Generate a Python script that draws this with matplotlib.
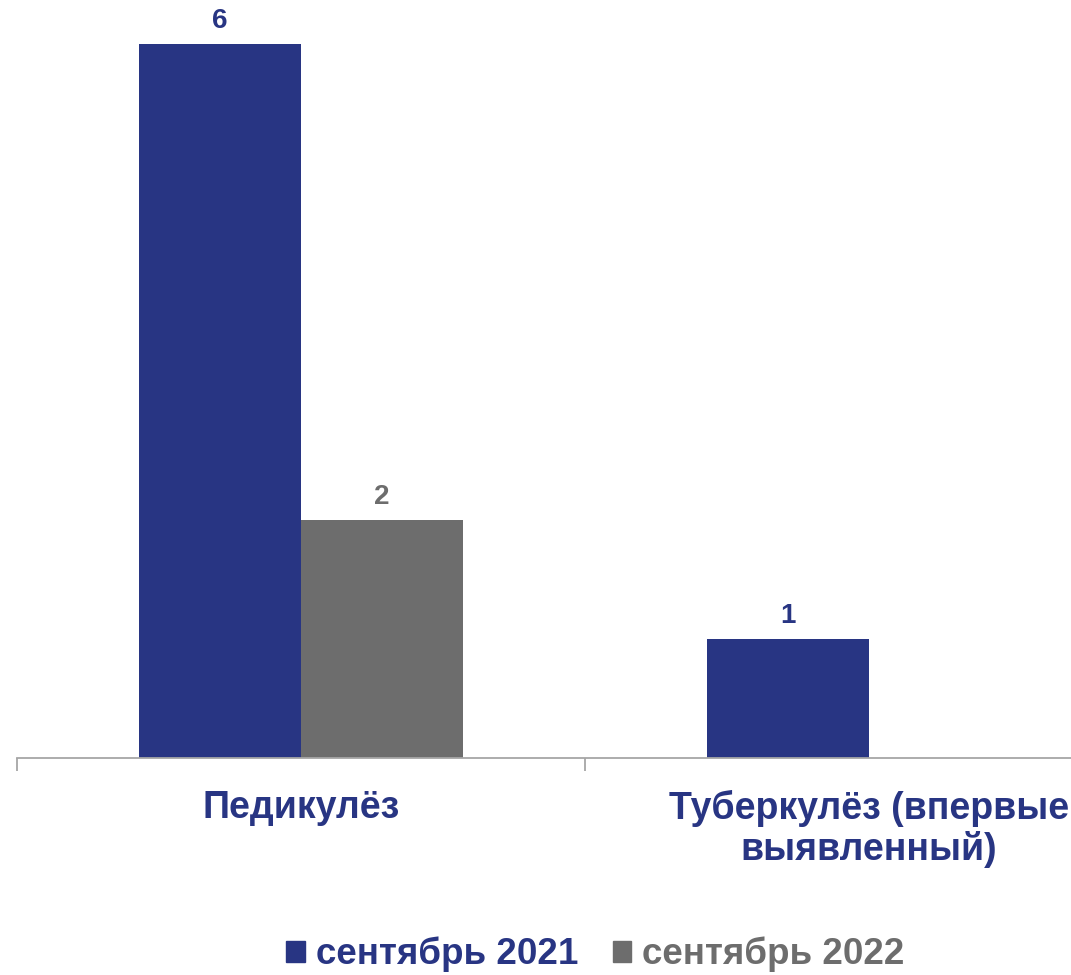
import matplotlib
matplotlib.use("Agg")
import matplotlib.pyplot as plt
from matplotlib.patches import Patch
import numpy as np

categories = ["Педикулёз", "Туберкулёз (впервые\nвыявленный)"]
series_names = ["сентябрь 2021", "сентябрь 2022"]
values_2021 = [6, 1]
values_2022 = [2, np.nan]

BLUE = "#283583"
GRAY = "#6D6D6D"
plt.rcParams['font.family'] = ['Liberation Sans', 'DejaVu Sans']

W, H = 1071, 975
fig = plt.figure(figsize=(W / 100, H / 100), dpi=100)
left_px, right_px = 17, 1153
bottom_px = 758
ymax = 6.3
unit_px = 119.0
top_px = bottom_px - ymax * unit_px
ax = fig.add_axes([left_px / W, (H - bottom_px) / H,
                   (right_px - left_px) / W, (bottom_px - top_px) / H])

x = np.arange(len(categories))
bw = 0.285
b1 = ax.bar(x - bw / 2, values_2021, width=bw, color=BLUE, label=series_names[0])
b2 = ax.bar(x + bw / 2, values_2022, width=bw, color=GRAY, label=series_names[1])

for bars, vals, col in [(b1, values_2021, BLUE), (b2, values_2022, GRAY)]:
    for rect, v in zip(bars, vals):
        if v is None or np.isnan(v):
            continue
        ax.annotate(f"{v:g}", (rect.get_x() + rect.get_width() / 2, v),
                    xytext=(0, 7), textcoords="offset points",
                    ha="center", va="bottom", fontsize=20, fontweight="bold", color=col)

ax.set_xlim(-0.5, len(categories) - 0.5)
ax.set_ylim(0, ymax)
ax.set_yticks([])
for s in ["left", "top", "right"]:
    ax.spines[s].set_visible(False)
ax.spines["bottom"].set_color("#A6A6A6")
ax.spines["bottom"].set_linewidth(1.3)

ax.set_xticks(x)
ax.set_xticklabels(categories, fontsize=27, fontweight="bold", color=BLUE,
                   linespacing=1.15, va="top")
ax.tick_params(axis="x", which="major", length=0, pad=23)
ax.set_xticks(np.arange(len(categories) + 1) - 0.5, minor=True)
ax.tick_params(axis="x", which="minor", length=9, color="#A6A6A6", width=1.3)

handles = [Patch(color=BLUE), Patch(color=GRAY)]
leg = fig.legend(handles, series_names, loc="center", bbox_to_anchor=(0.556, 0.021),
                 ncol=2, frameon=False, prop={"size": 26.5, "weight": "bold"},
                 handlelength=0.5, handleheight=0.5, handletextpad=0.3,
                 columnspacing=0.95, borderpad=0.2)
for t, c in zip(leg.get_texts(), [BLUE, GRAY]):
    t.set_color(c)

fig.savefig("out.png", dpi=100)
